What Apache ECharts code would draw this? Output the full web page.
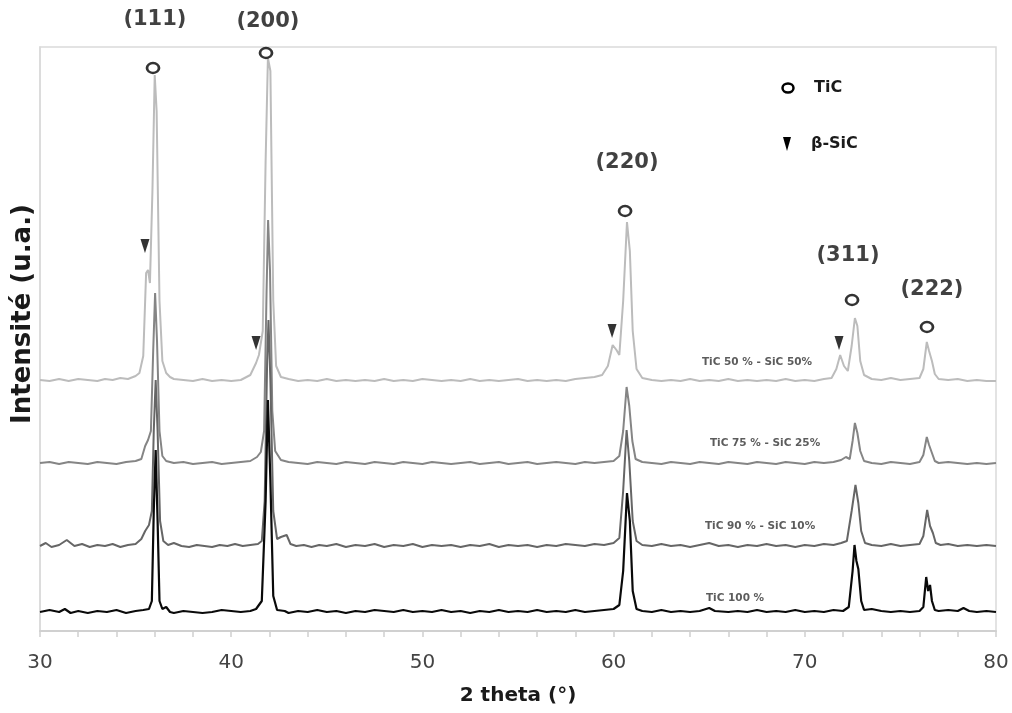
<!DOCTYPE html>
<html>
<head>
<meta charset="utf-8">
<script src="https://cdn.jsdelivr.net/npm/echarts@6/dist/echarts.min.js"></script>
<style>html,body{margin:0;padding:0;background:#fff;}#c{width:1012px;height:713px;}</style>
</head>
<body>
<div id="c"></div>
<script>
// ---- DATA (2theta in degrees, intensity in arbitrary units incl. stacking offset) ----
const xTicks = [30, 40, 50, 60, 70, 80];

const tic50sic50 = [[30,251],[30.5,250],[31,252],[31.5,250],[32,252],[32.5,251],[33,250],[33.4,252],[33.8,251],[34.2,253],[34.6,252],[35,255],[35.2,258],[35.4,275],[35.55,358],[35.65,361],[35.75,348],[35.88,440],[36.0,556],[36.1,520],[36.25,330],[36.4,270],[36.6,258],[36.8,254],[37,252],[37.5,251],[38,250],[38.5,252],[39,250],[39.5,251],[40,250],[40.5,251],[41,256],[41.3,268],[41.45,276],[41.65,300],[41.8,470],[41.92,573],[42.05,560],[42.2,330],[42.35,265],[42.6,254],[43,252],[43.5,250],[44,251],[44.5,250],[45,252],[45.5,250],[46,251],[46.5,250],[47,251],[47.5,250],[48,252],[48.5,250],[49,251],[49.5,250],[50,252],[50.5,251],[51,250],[51.5,251],[52,250],[52.5,252],[53,250],[53.5,251],[54,250],[54.5,251],[55,252],[55.5,250],[56,251],[56.5,250],[57,251],[57.5,250],[58,252],[58.5,253],[59,254],[59.4,256],[59.7,265],[59.95,286],[60.15,281],[60.3,276],[60.5,330],[60.7,409],[60.85,380],[61.0,300],[61.2,262],[61.5,253],[62,251],[62.5,250],[63,251],[63.5,250],[64,252],[64.5,250],[65,251],[65.5,250],[66,252],[66.5,250],[67,251],[67.5,250],[68,251],[68.5,250],[69,252],[69.5,250],[70,251],[70.5,250],[71,252],[71.4,253],[71.65,262],[71.85,276],[72.05,265],[72.25,260],[72.45,285],[72.62,313],[72.75,305],[72.9,270],[73.1,256],[73.5,252],[74,251],[74.5,253],[75,251],[75.5,252],[76.0,253],[76.2,262],[76.38,289],[76.5,280],[76.65,270],[76.8,257],[77,252],[77.5,251],[78,252],[78.5,250],[79,251],[79.5,250],[80,250]];

const tic75sic25 = [[30,168],[30.5,169],[31,167],[31.5,169],[32,168],[32.5,167],[33,169],[33.5,168],[34,167],[34.5,169],[35,170],[35.3,172],[35.5,185],[35.65,191],[35.8,200],[35.92,280],[36.02,338],[36.12,290],[36.25,200],[36.4,175],[36.6,170],[37,168],[37.5,169],[38,167],[38.5,168],[39,169],[39.5,167],[40,168],[40.5,169],[41,170],[41.35,174],[41.55,179],[41.72,200],[41.85,340],[41.93,411],[42.03,360],[42.15,220],[42.3,180],[42.6,171],[43,169],[43.5,168],[44,167],[44.5,169],[45,168],[45.5,167],[46,169],[46.5,168],[47,167],[47.5,169],[48,168],[48.5,167],[49,169],[49.5,168],[50,167],[50.5,169],[51,168],[51.5,167],[52,168],[52.5,169],[53,167],[53.5,168],[54,169],[54.5,167],[55,168],[55.5,169],[56,167],[56.5,168],[57,169],[57.5,168],[58,167],[58.5,169],[59,168],[59.5,169],[60,170],[60.3,175],[60.5,200],[60.68,244],[60.82,225],[60.98,190],[61.15,172],[61.5,169],[62,168],[62.5,167],[63,169],[63.5,168],[64,167],[64.5,169],[65,168],[65.5,167],[66,169],[66.5,168],[67,167],[67.5,169],[68,168],[68.5,167],[69,169],[69.5,168],[70,167],[70.5,169],[71,168],[71.5,169],[71.9,171],[72.15,174],[72.35,172],[72.5,190],[72.62,208],[72.75,198],[72.9,180],[73.1,170],[73.5,168],[74,167],[74.5,169],[75,168],[75.5,167],[76,169],[76.2,176],[76.38,194],[76.5,186],[76.65,178],[76.8,170],[77,168],[77.5,169],[78,168],[78.5,167],[79,168],[79.5,167],[80,168]];

const tic90sic10 = [[30,85],[30.3,88],[30.6,84],[31,86],[31.4,91],[31.8,85],[32.2,87],[32.6,84],[33,86],[33.4,85],[33.8,87],[34.2,84],[34.6,86],[35,87],[35.3,92],[35.5,100],[35.7,106],[35.85,120],[35.95,200],[36.05,251],[36.15,200],[36.28,110],[36.45,90],[36.7,86],[37,88],[37.4,85],[37.8,84],[38.2,86],[38.6,85],[39,84],[39.4,86],[39.8,85],[40.2,87],[40.6,85],[41,86],[41.4,87],[41.6,90],[41.75,130],[41.88,270],[41.95,311],[42.05,250],[42.2,120],[42.4,92],[42.6,94],[42.9,96],[43.1,87],[43.4,85],[43.8,86],[44.2,84],[44.6,86],[45,85],[45.5,87],[46,84],[46.5,86],[47,85],[47.5,87],[48,84],[48.5,86],[49,85],[49.5,87],[50,84],[50.5,86],[51,85],[51.5,86],[52,84],[52.5,86],[53,85],[53.5,87],[54,84],[54.5,86],[55,85],[55.5,86],[56,84],[56.5,86],[57,85],[57.5,87],[58,86],[58.5,85],[59,87],[59.5,86],[60,88],[60.3,93],[60.5,140],[60.68,201],[60.82,170],[61.0,110],[61.2,90],[61.5,86],[62,85],[62.5,87],[63,85],[63.5,86],[64,84],[64.5,86],[65,88],[65.5,85],[66,86],[66.5,84],[67,86],[67.5,85],[68,87],[68.5,85],[69,86],[69.5,84],[70,86],[70.5,85],[71,87],[71.5,86],[71.9,88],[72.2,90],[72.45,120],[72.65,146],[72.8,128],[72.95,100],[73.15,88],[73.5,86],[74,85],[74.5,87],[75,85],[75.5,86],[76,87],[76.2,95],[76.4,121],[76.55,105],[76.7,98],[76.85,88],[77.1,86],[77.5,87],[78,85],[78.5,86],[79,85],[79.5,86],[80,85]];

const tic100 = [[30,19],[30.5,21],[31,19],[31.3,22],[31.6,18],[32,20],[32.5,18],[33,20],[33.5,19],[34,21],[34.5,18],[35,20],[35.4,21],[35.7,22],[35.85,30],[35.95,120],[36.05,181],[36.15,110],[36.25,30],[36.4,22],[36.6,24],[36.8,19],[37,18],[37.5,20],[38,19],[38.5,18],[39,19],[39.5,21],[40,20],[40.5,19],[41,20],[41.3,22],[41.6,30],[41.8,130],[41.92,231],[42.05,150],[42.2,35],[42.4,21],[42.8,20],[43,18],[43.5,20],[44,19],[44.5,21],[45,19],[45.5,20],[46,18],[46.5,20],[47,19],[47.5,21],[48,20],[48.5,19],[49,21],[49.5,19],[50,20],[50.5,19],[51,21],[51.5,19],[52,20],[52.5,18],[53,20],[53.5,19],[54,21],[54.5,19],[55,20],[55.5,19],[56,21],[56.5,19],[57,20],[57.5,19],[58,21],[58.5,19],[59,20],[59.5,21],[60,22],[60.3,26],[60.5,60],[60.7,138],[60.85,110],[61.0,40],[61.2,22],[61.5,20],[62,19],[62.5,21],[63,19],[63.5,20],[64,19],[64.5,20],[65,23],[65.3,20],[66,19],[66.5,20],[67,19],[67.5,21],[68,19],[68.5,20],[69,19],[69.5,21],[70,19],[70.5,20],[71,19],[71.5,21],[72,20],[72.3,24],[72.5,60],[72.6,86],[72.7,70],[72.8,62],[72.95,30],[73.1,21],[73.5,22],[74,20],[74.5,19],[75,20],[75.5,19],[76,20],[76.2,24],[76.35,54],[76.45,40],[76.55,46],[76.65,30],[76.8,21],[77,20],[77.5,21],[78,20],[78.3,23],[78.6,20],[79,19],[79.5,20],[80,19]];

// TiC peak markers (circles) and beta-SiC markers (triangles)
const ticMarks = [[35.91,563],[41.82,578],[60.60,420],[72.47,331],[76.39,304]];
const sicMarks = [[35.49,385],[41.30,288],[59.92,300],[71.79,288]];
// Miller index labels
const hklLabels = [["(111)",36.01,611],["(200)",41.92,609],["(220)",60.70,468],["(311)",72.26,375],["(222)",76.65,341]];
// Trace labels
const traceLabels = [["TiC 50 % - SiC 50%",67.5,269],["TiC 75 % - SiC 25%",67.92,188],["TiC 90 % - SiC 10%",67.66,105],["TiC 100 %",66.35,33]];

const FONT = '"DejaVu Sans", sans-serif';

const chart = echarts.init(document.getElementById('c'), null, {renderer: 'canvas'});

function line(name, data, color, w) {
  return {
    name, type: 'line', data, showSymbol: false, smooth: false,
    lineStyle: {color, width: w}, z: 2, silent: true, animation: false
  };
}

chart.setOption({
  backgroundColor: '#fff',
  animation: false,
  grid: {left: 40, right: 16, top: 47, bottom: 82, show: true, borderColor: '#dadada', borderWidth: 1.5, backgroundColor: 'transparent'},
  xAxis: {
    type: 'value', min: 30, max: 80, interval: 10,
    axisLine: {show: true, lineStyle: {color: '#d0d0d0', width: 2}},
    axisTick: {show: true, inside: false, length: 6, lineStyle: {color: '#cfcfcf', width: 1.5}},
    minorTick: {show: true, splitNumber: 5, length: 6, lineStyle: {color: '#cfcfcf', width: 1.5}},
    splitLine: {show: false},
    axisLabel: {fontFamily: FONT, fontSize: 20, color: '#444', margin: 22,
      formatter: v => xTicks.includes(v) ? String(v) : ''},
    name: '2 theta (°)', nameLocation: 'middle', nameGap: 55,
    nameTextStyle: {fontFamily: FONT, fontSize: 20, fontWeight: 'bold', color: '#1a1a1a'}
  },
  yAxis: {
    type: 'value', min: 0, max: 584,
    axisLine: {show: true, lineStyle: {color: '#dadada', width: 1.5}},
    axisTick: {show: false}, axisLabel: {show: false}, splitLine: {show: false}
  },
  graphic: [
    {type: 'text', x: 23, y: 314, rotation: Math.PI / 2,
      style: {text: 'Intensité (u.a.)', font: 'bold 26px ' + FONT, fill: '#1a1a1a', align: 'center', verticalAlign: 'middle'}},
    {type: 'ellipse', shape: {cx: 788, cy: 88, rx: 5.5, ry: 4.5}, style: {fill: '#fff', stroke: '#000', lineWidth: 2.5}},
    {type: 'text', x: 814, y: 88, style: {text: 'TiC', font: 'bold 16px ' + FONT, fill: '#1a1a1a', align: 'left', verticalAlign: 'middle'}},
    {type: 'polygon', shape: {points: [[783, 137], [791, 137], [787, 151]]}, style: {fill: '#000'}},
    {type: 'text', x: 811, y: 144, style: {text: 'β-SiC', font: 'bold 16px ' + FONT, fill: '#1a1a1a', align: 'left', verticalAlign: 'middle'}}
  ],
  series: [
    line('TiC 50 % - SiC 50%', tic50sic50, '#bcbcbc', 2),
    line('TiC 75 % - SiC 25%', tic75sic25, '#858585', 2),
    line('TiC 90 % - SiC 10%', tic90sic10, '#666666', 2),
    line('TiC 100 %', tic100, '#0a0a0a', 2.2),
    {type: 'scatter', data: ticMarks, symbol: 'circle', symbolSize: [12, 10], clip: false, z: 5,
      itemStyle: {color: '#fff', borderColor: '#000', borderWidth: 2.5}, silent: true},
    {type: 'scatter', data: sicMarks, symbol: 'triangle', symbolRotate: 180, symbolSize: [9, 14], clip: false, z: 5,
      itemStyle: {color: '#000'}, silent: true},
    {type: 'scatter', data: hklLabels.map(d => ({value: [d[1], d[2]], name: d[0]})), symbolSize: 0, clip: false, z: 6,
      label: {show: true, position: 'inside', formatter: p => p.name, fontFamily: FONT, fontSize: 21, fontWeight: 'bold', color: '#111'}, silent: true},
    {type: 'scatter', data: traceLabels.map(d => ({value: [d[1], d[2]], name: d[0]})), symbolSize: 0, clip: false, z: 6,
      label: {show: true, position: 'inside', formatter: p => p.name, fontFamily: FONT, fontSize: 10.5, fontWeight: 'bold', color: '#333'}, silent: true}
  ]
});
</script>
</body>
</html>
